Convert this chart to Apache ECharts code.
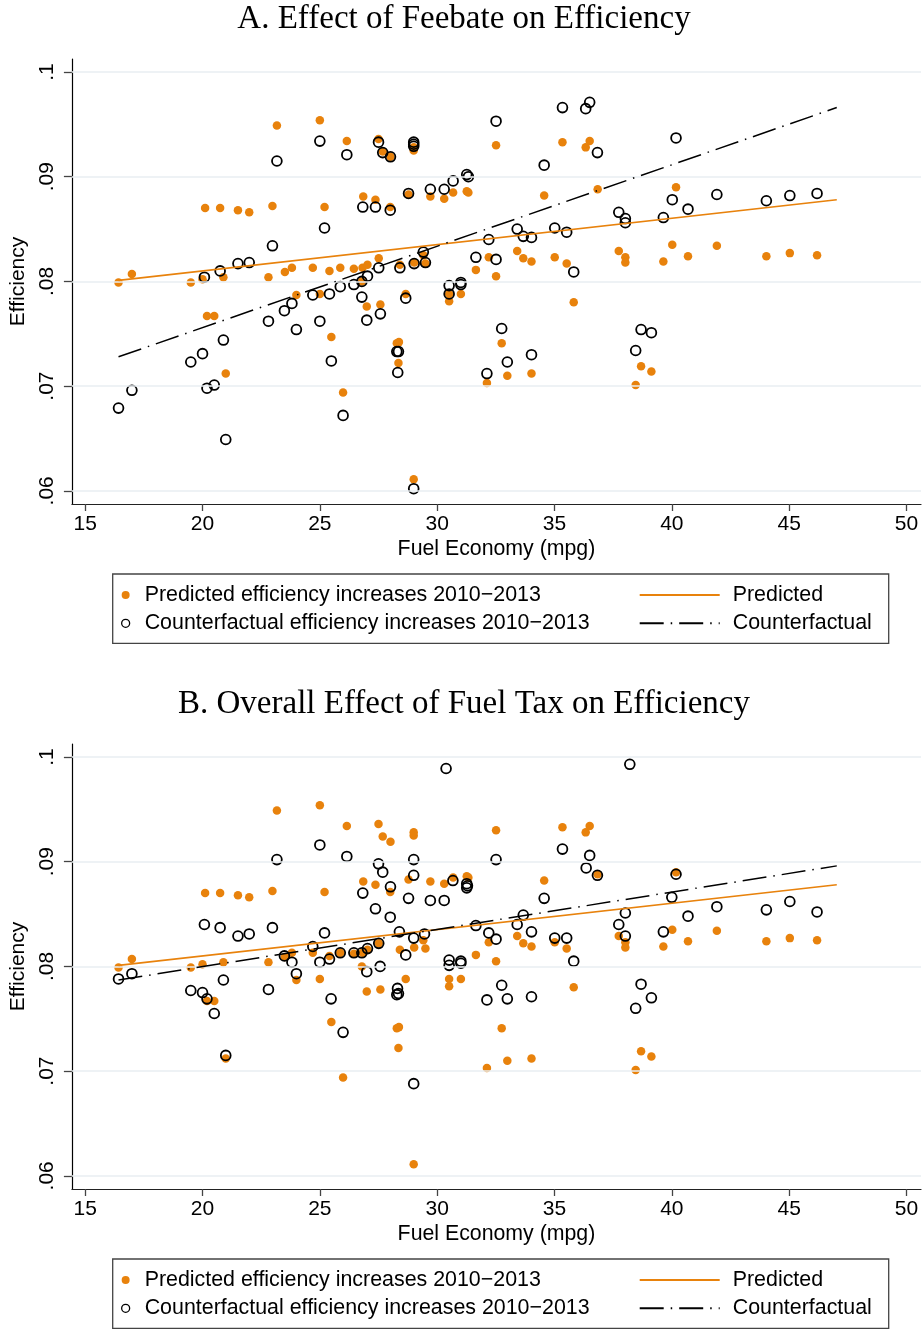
<!DOCTYPE html>
<html><head><meta charset="utf-8">
<script src="https://cdn.jsdelivr.net/npm/echarts@6/dist/echarts.min.js"></script>
<style>html,body{margin:0;padding:0;background:#fff}#c{width:922px;height:1330px}</style>
</head><body><div id="c"></div>
<script>
// ---------------- data ----------------
const xTicks = [15, 20, 25, 30, 35, 40, 45, 50];
const yTicks = [0.06, 0.07, 0.08, 0.09, 0.1];
const yTickLabels = ['.06', '.07', '.08', '.09', '.1'];
const titles = ['A. Effect of Feebate on Efficiency', 'B. Overall Effect of Fuel Tax on Efficiency'];
const seriesNames = ['Predicted efficiency increases 2010\u22122013', 'Counterfactual efficiency increases 2010\u22122013', 'Predicted', 'Counterfactual'];

// predicted efficiency increases (same in both panels): [mpg, efficiency]
const predictedPoints = [
 [23.17,0.0949],[20.11,0.0870],[20.75,0.0870],[21.51,0.0868],[21.99,0.0866],[22.98,0.0872],[16.42,0.0799],[16.99,0.0807],[19.50,0.0799],[20.00,0.0802],[20.89,0.0804],[22.81,0.0804],[23.51,0.0809],[23.81,0.0813],[20.19,0.0767],[20.50,0.0767],[20.99,0.0712],
 [25.00,0.0954],[26.15,0.0934],[27.50,0.0936],[27.68,0.0924],[28.01,0.0919],[29.00,0.0925],[32.51,0.0930],[25.20,0.0871],[26.85,0.0881],[27.37,0.0878],[28.00,0.0871],[28.78,0.0883],[29.71,0.0881],[30.30,0.0879],[30.68,0.0885],[31.26,0.0886],[31.33,0.0885],
 [24.70,0.0813],[25.41,0.0810],[25.87,0.0813],[26.45,0.0812],[26.82,0.0813],[27.03,0.0816],[27.51,0.0822],[26.79,0.0800],[28.41,0.0816],[29.02,0.0818],[29.50,0.0817],[32.20,0.0823],[31.65,0.0811],[32.51,0.0805],
 [24.00,0.0787],[25.00,0.0788],[27.00,0.0776],[27.58,0.0778],[28.66,0.0788],[30.51,0.0781],[31.01,0.0788],[25.49,0.0747],[28.28,0.0741],[28.37,0.0742],[28.35,0.0722],[25.99,0.0694],[29.00,0.0611],[32.75,0.0741],[32.12,0.0703],[32.99,0.0710],
 [35.34,0.0933],[36.33,0.0928],[36.50,0.0934],[34.56,0.0882],[36.84,0.0888],[40.18,0.0890],[33.41,0.0829],[33.67,0.0822],[34.02,0.0819],[35.01,0.0823],[35.52,0.0817],[37.74,0.0829],[38.02,0.0823],[38.02,0.0818],[39.64,0.0819],[40.02,0.0835],[40.69,0.0824],[35.82,0.0780],[34.02,0.0712],[38.69,0.0719],[39.13,0.0714],[38.46,0.0701],[41.92,0.0834],[44.03,0.0824],[45.03,0.0827],[46.19,0.0825],
 [29.41,0.0825],[29.00,0.0928],[30.51,0.0788]
];

// counterfactual, panel A (feebate)
const counterfactualA = [
 [23.17,0.0915],[22.98,0.0834],[20.08,0.0804],[20.75,0.0810],[21.51,0.0817],[21.99,0.0818],[22.81,0.0762],[23.49,0.0772],[23.81,0.0779],[20.89,0.0744],[19.50,0.0723],[20.00,0.0731],[20.19,0.0698],[20.50,0.0701],[16.99,0.0696],[16.42,0.0679],[20.99,0.0649],
 [25.00,0.0934],[26.15,0.0921],[27.50,0.0933],[27.68,0.0923],[28.01,0.0919],[29.00,0.0933],[29.00,0.0931],[29.00,0.0929],[32.51,0.0953],[25.20,0.0851],[26.83,0.0871],[27.37,0.0871],[28.00,0.0868],[28.78,0.0884],[29.71,0.0888],[30.30,0.0888],[30.68,0.0896],[31.26,0.0902],[31.33,0.0900],
 [32.20,0.0840],[31.65,0.0823],[32.51,0.0821],[29.41,0.0828],[29.02,0.0817],[29.50,0.0818],[28.41,0.0813],[27.51,0.0813],[27.03,0.0805],[26.79,0.0800],[26.45,0.0797],[25.87,0.0795],[25.41,0.0788],[24.70,0.0787],[26.79,0.0785],[28.66,0.0784],[30.51,0.0796],[30.51,0.0788],[31.01,0.0799],[31.01,0.0797],
 [24.00,0.0754],[25.00,0.0762],[27.00,0.0763],[27.58,0.0769],[25.49,0.0724],[28.28,0.0733],[28.35,0.0733],[28.32,0.0713],[25.99,0.0672],[29.00,0.0602],[32.75,0.0755],[32.12,0.0712],[32.99,0.0723],
 [35.34,0.0966],[36.33,0.0965],[36.50,0.0971],[36.83,0.0923],[34.56,0.0911],[40.18,0.0937],[33.41,0.0850],[33.67,0.0843],[34.02,0.0842],[35.01,0.0851],[35.52,0.0847],[35.82,0.0809],[37.74,0.0866],[38.02,0.0860],[38.02,0.0856],[39.64,0.0861],[40.02,0.0878],[40.69,0.0869],[34.02,0.0730],[38.46,0.0734],[38.69,0.0754],[39.13,0.0751],[41.92,0.0883],[44.03,0.0877],[45.03,0.0882],[46.19,0.0884]
];

// counterfactual, panel B (fuel tax)
const counterfactualB = [
 [23.17,0.0902],[22.98,0.0837],[20.08,0.0840],[20.75,0.0837],[21.51,0.0829],[21.99,0.0831],[22.81,0.0778],[23.49,0.0810],[23.81,0.0804],[24.00,0.0793],[20.89,0.0787],[19.50,0.0777],[20.00,0.0775],[20.19,0.0769],[20.50,0.0755],[16.99,0.0793],[16.42,0.0788],[20.99,0.0715],
 [30.38,0.0989],[25.00,0.0916],[26.15,0.0905],[27.50,0.0898],[27.68,0.0890],[28.01,0.0876],[29.00,0.0902],[29.00,0.0887],[28.78,0.0865],[32.51,0.0902],[30.67,0.0882],[31.26,0.0879],[31.29,0.0877],[31.26,0.0875],[26.83,0.0870],[29.71,0.0863],[30.30,0.0863],[27.37,0.0855],[28.00,0.0847],
 [25.20,0.0832],[24.70,0.0819],[25.41,0.0807],[25.00,0.0804],[25.87,0.0813],[26.45,0.0813],[26.79,0.0813],[27.03,0.0817],[27.51,0.0822],[27.00,0.0795],[27.57,0.0800],[28.39,0.0833],[29.46,0.0831],[29.00,0.0827],[28.66,0.0811],[30.51,0.0806],[30.51,0.0801],[31.01,0.0805],[31.01,0.0803],[31.65,0.0839],[32.20,0.0832],[32.51,0.0826],
 [25.48,0.0769],[25.99,0.0737],[28.31,0.0779],[28.28,0.0773],[28.35,0.0774],[29.00,0.0688],[32.75,0.0782],[32.12,0.0768],[32.99,0.0769],
 [38.21,0.0993],[35.34,0.0912],[36.35,0.0894],[36.50,0.0906],[36.83,0.0887],[34.56,0.0865],[40.18,0.0888],[40.00,0.0866],[40.69,0.0848],[33.41,0.0840],[33.67,0.0849],[34.02,0.0833],[35.01,0.0827],[35.52,0.0827],[35.82,0.0805],[37.74,0.0840],[38.02,0.0851],[38.02,0.0829],[39.64,0.0833],[34.02,0.0771],[38.46,0.0760],[38.69,0.0783],[39.13,0.0770],[41.92,0.0857],[44.03,0.0854],[45.03,0.0862],[46.19,0.0852]
];

// fitted lines: [start, end]
const predictedLine = [[16.42,0.0801],[47.03,0.0878]];
const counterfactualLineA = [[16.42,0.0728],[47.03,0.0966]];
const counterfactualLineB = [[16.42,0.0787],[47.03,0.0896]];

// ---------------- layout / style ----------------
const ORANGE = '#e8820c';
const FONT = 'Liberation Sans';
const OFF = 685;             // vertical offset of panel B
const X_MIN = 14.433, X_MAX = 50.62;
const Y_MIN = 0.05874, Y_MAX = 0.10124;

function yLabel(v) {
  const i = yTicks.findIndex(t => Math.abs(t - v) < 1e-7);
  return i >= 0 ? yTickLabels[i] : '';
}

const grids = [], xAxes = [], yAxes = [], series = [], legends = [], titleList = [], graphics = [];
const cfData = [counterfactualA, counterfactualB];
const cfLines = [counterfactualLineA, counterfactualLineB];

for (let p = 0; p < 2; p++) {
  const dy = p * OFF;
  grids.push({left: 71.7, top: 59 + dy, width: 849.3, height: 445, containLabel: false});
  xAxes.push({
    gridIndex: p, type: 'value', min: X_MIN, max: X_MAX,
    axisLine: {show: true, onZero: false, lineStyle: {color: '#222', width: 1.2}},
    axisTick: {show: true, customValues: xTicks, length: 7, lineStyle: {color: '#444', width: 1.3}},
    axisLabel: {show: true, customValues: xTicks, fontSize: 21, color: '#000', fontFamily: FONT, margin: 10},
    splitLine: {show: false},
    name: 'Fuel Economy (mpg)', nameLocation: 'middle', nameGap: 35,
    nameTextStyle: {fontSize: 21.3, color: '#000', fontFamily: FONT}
  });
  yAxes.push({
    gridIndex: p, type: 'value', min: Y_MIN, max: Y_MAX,
    axisLine: {show: true, onZero: false, lineStyle: {color: '#000', width: 1.2}},
    axisTick: {show: true, customValues: yTicks, length: 8, lineStyle: {color: '#444', width: 1.3}},
    axisLabel: {show: true, customValues: yTicks, rotate: 90, formatter: yLabel, fontSize: 21, color: '#000', fontFamily: FONT, margin: 14},
    splitLine: {show: false},
    name: 'Efficiency', nameLocation: 'middle', nameGap: 40,
    nameTextStyle: {fontSize: 21, color: '#000', fontFamily: FONT}
  });
  titleList.push({
    text: titles[p], left: 464, textAlign: 'center', top: 3 + dy, padding: 0,
    textStyle: {fontFamily: 'Liberation Serif', fontSize: 33, fontWeight: 'normal', color: '#000'}
  });
  // gridlines
  series.push({
    name: 'gridlines' + p, type: 'scatter', xAxisIndex: p, yAxisIndex: p, data: [], silent: true, z: 1,
    markLine: {silent: true, symbol: ['none', 'none'], label: {show: false}, animation: false,
      lineStyle: {color: '#e8eef2', width: 1.6, type: 'solid'},
      emphasis: {disabled: true},
      data: yTicks.map(v => ({yAxis: v}))}
  });
  series.push({
    name: seriesNames[0], type: 'scatter', xAxisIndex: p, yAxisIndex: p, data: predictedPoints,
    symbol: 'circle', symbolSize: 8.5, itemStyle: {color: ORANGE, opacity: 1}, z: 3
  });
  series.push({
    name: seriesNames[1], type: 'scatter', xAxisIndex: p, yAxisIndex: p, data: cfData[p],
    symbol: 'circle', symbolSize: 9.8,
    itemStyle: {color: 'rgba(0,0,0,0)', borderColor: '#000', borderWidth: 1.8, opacity: 1}, z: 4
  });
  series.push({
    name: seriesNames[2], type: 'line', xAxisIndex: p, yAxisIndex: p, data: predictedLine,
    symbol: 'none', lineStyle: {color: ORANGE, width: 1.6}, itemStyle: {color: ORANGE}, z: 5
  });
  series.push({
    name: seriesNames[3], type: 'line', xAxisIndex: p, yAxisIndex: p, data: cfLines[p],
    symbol: 'none', lineStyle: {color: '#000', width: 1.5, type: [24, 7, 1.5, 7]}, itemStyle: {color: '#000'}, z: 5
  });
  legends.push({
    left: 121, top: 584.5 + dy, orient: 'vertical', itemGap: 7.3, itemWidth: 28, itemHeight: 8,
    padding: 0, selectedMode: false, data: [seriesNames[0], seriesNames[1]],
    itemStyle: {borderWidth: 1.3},
    textStyle: {fontSize: 21.4, lineHeight: 21, color: '#000', fontFamily: FONT}
  });
  legends.push({
    left: 638.7, top: 584.5 + dy, orient: 'vertical', itemGap: 7.3, itemWidth: 80, itemHeight: 21,
    padding: 0, selectedMode: false, data: [seriesNames[2], seriesNames[3]],
    itemStyle: {color: 'rgba(0,0,0,0)', borderWidth: 0, opacity: 0},
    textStyle: {fontSize: 21.4, lineHeight: 21, color: '#000', fontFamily: FONT, padding: [0, 0, 0, 8]}
  });
  graphics.push({
    type: 'rect', silent: true, z: 0,
    shape: {x: 112.7, y: 574 + dy, width: 776, height: 69.3},
    style: {fill: 'none', stroke: '#444', lineWidth: 1.3}
  });
}

const chart = echarts.init(document.getElementById('c'), null, {renderer: 'canvas'});
chart.setOption({
  animation: false,
  backgroundColor: '#fff',
  textStyle: {fontFamily: FONT},
  title: titleList,
  grid: grids,
  xAxis: xAxes,
  yAxis: yAxes,
  legend: legends,
  graphic: graphics,
  series: series
});
</script>
</body></html>
